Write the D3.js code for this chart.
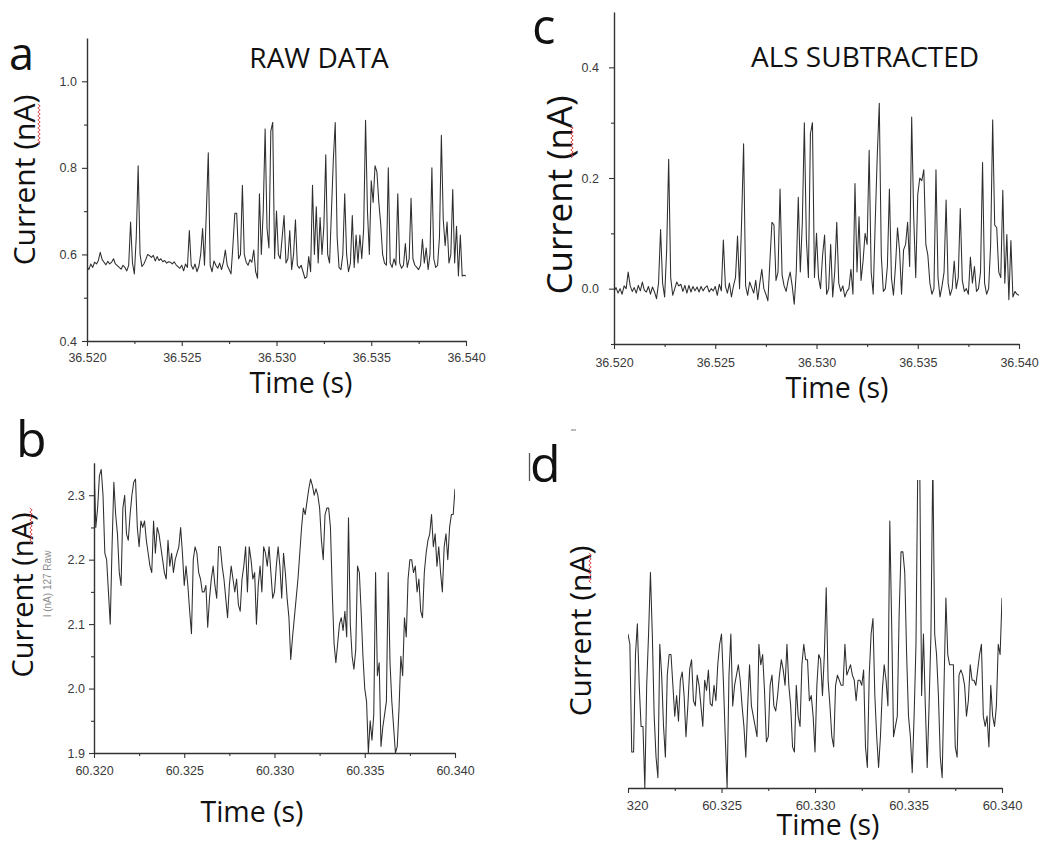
<!DOCTYPE html>
<html>
<head>
<meta charset="utf-8">
<script src="https://cdn.jsdelivr.net/npm/d3@7"></script>
<style>
  body { margin: 0; background: #fff; }
  svg { display: block; }
</style>
</head>
<body>
<svg id="fig" width="1053" height="848"></svg>
<script>
// ---- Recording 1: 36.520–36.540 s, sampled every 0.1 ms ----
const earlyStart = 36.520;
const sampleStep = 0.0001;

// Raw current (nA)
const earlyRaw = [
  0.572,0.565,0.578,0.570,0.582,0.578,0.586,0.605,0.588,0.582,
  0.576,0.584,0.578,0.582,0.590,0.578,0.574,0.570,0.566,0.575,
  0.570,0.562,0.575,0.675,0.580,0.555,0.640,0.805,0.600,0.572,
  0.578,0.588,0.600,0.597,0.593,0.598,0.585,0.595,0.586,0.590,
  0.583,0.586,0.580,0.583,0.582,0.578,0.583,0.576,0.572,0.568,
  0.575,0.562,0.578,0.570,0.655,0.575,0.566,0.578,0.560,0.572,
  0.600,0.660,0.575,0.700,0.835,0.575,0.560,0.585,0.575,0.568,
  0.580,0.565,0.582,0.610,0.575,0.565,0.555,0.620,0.695,0.695,
  0.590,0.600,0.760,0.600,0.582,0.575,0.588,0.582,0.610,0.560,
  0.545,0.740,0.600,0.700,0.890,0.660,0.615,0.885,0.905,0.590,
  0.700,0.600,0.590,0.640,0.690,0.580,0.590,0.655,0.565,0.600,
  0.680,0.575,0.568,0.575,0.560,0.545,0.548,0.595,0.560,0.760,
  0.600,0.710,0.580,0.685,0.600,0.665,0.830,0.600,0.580,0.700,
  0.820,0.905,0.640,0.570,0.565,0.600,0.740,0.600,0.560,0.580,
  0.690,0.570,0.645,0.580,0.645,0.590,0.660,0.910,0.700,0.600,
  0.770,0.720,0.805,0.790,0.720,0.670,0.600,0.580,0.575,0.800,
  0.580,0.570,0.590,0.575,0.740,0.580,0.568,0.575,0.625,0.570,
  0.590,0.730,0.590,0.575,0.570,0.565,0.575,0.635,0.580,0.615,
  0.565,0.600,0.800,0.590,0.570,0.575,0.640,0.875,0.680,0.620,
  0.675,0.580,0.600,0.750,0.580,0.665,0.550,0.645,0.550,0.552,
  0.550
];

// Same window after asymmetric-least-squares baseline removal (nA)
const earlyAls = [
  -0.005,0.002,-0.008,0.000,-0.010,0.005,0.000,0.030,0.005,-0.005,
  0.002,-0.008,0.006,-0.004,0.012,-0.003,-0.006,0.004,-0.010,0.003,
  -0.006,-0.018,0.010,0.107,0.010,-0.015,0.070,0.234,0.020,-0.012,
  0.000,0.012,0.005,0.008,-0.005,0.006,-0.008,0.006,-0.006,0.004,
  -0.004,0.003,-0.006,0.004,-0.004,0.002,0.005,-0.006,0.000,-0.004,
  0.004,-0.012,0.008,-0.004,0.088,0.005,-0.008,0.010,-0.015,0.005,
  0.020,0.095,0.000,0.120,0.262,0.005,-0.012,0.012,0.002,-0.008,
  0.015,-0.020,0.010,0.035,0.000,-0.010,-0.022,0.050,0.120,0.115,
  0.015,0.030,0.180,0.025,0.005,-0.005,0.015,0.030,0.005,-0.028,
  0.030,0.165,0.030,0.120,0.300,0.090,0.020,0.280,0.300,0.020,
  0.100,0.020,0.000,0.060,0.097,-0.010,0.000,0.080,-0.015,0.030,
  0.120,0.010,-0.005,0.005,-0.015,-0.005,0.000,0.035,-0.010,0.190,
  0.030,0.130,0.015,0.050,0.100,0.080,0.250,0.030,-0.010,0.120,
  0.240,0.335,0.060,-0.005,0.000,0.040,0.180,0.020,-0.012,0.040,
  0.110,0.070,-0.010,0.070,0.080,0.120,0.040,0.310,0.130,0.020,
  0.170,0.200,0.195,0.215,0.080,0.060,0.010,-0.010,0.000,0.215,
  0.020,-0.015,0.005,0.030,0.160,0.010,-0.012,0.000,0.050,0.000,
  0.020,0.145,0.015,-0.005,0.000,-0.010,0.057,0.010,0.040,-0.005,
  0.000,0.030,0.228,0.010,-0.010,0.000,0.080,0.305,0.115,0.110,
  0.030,0.020,0.178,0.010,0.098,-0.020,0.087,-0.015,-0.005,-0.010,
  -0.012
];

// ---- Recording 2: 60.320–60.340 s ----
const lateStart = 60.320;

const lateRaw = [
  2.35,2.25,2.28,2.33,2.34,2.30,2.21,2.20,2.15,2.10,
  2.22,2.32,2.27,2.24,2.18,2.16,2.28,2.30,2.24,2.23,
  2.27,2.30,2.32,2.325,2.25,2.22,2.26,2.25,2.26,2.23,
  2.21,2.19,2.18,2.26,2.21,2.25,2.24,2.22,2.20,2.18,
  2.17,2.23,2.19,2.21,2.18,2.20,2.21,2.22,2.25,2.21,
  2.16,2.19,2.16,2.12,2.085,2.20,2.22,2.21,2.18,2.17,
  2.15,2.15,2.16,2.095,2.14,2.17,2.19,2.16,2.14,2.22,
  2.22,2.19,2.17,2.14,2.11,2.16,2.19,2.17,2.15,2.17,
  2.13,2.12,2.17,2.19,2.22,2.15,2.22,2.20,2.17,2.18,
  2.10,2.16,2.19,2.15,2.22,2.21,2.19,2.22,2.18,2.14,
  2.15,2.19,2.22,2.19,2.14,2.21,2.18,2.14,2.11,2.045,
  2.08,2.11,2.14,2.17,2.21,2.25,2.28,2.27,2.29,2.31,
  2.325,2.315,2.30,2.31,2.30,2.28,2.23,2.20,2.27,2.28,
  2.28,2.25,2.15,2.07,2.04,2.07,2.10,2.11,2.09,2.12,
  2.08,2.265,2.10,2.05,2.03,2.06,2.19,2.18,2.12,2.05,
  2.00,1.98,1.90,1.95,1.92,1.96,2.18,2.02,2.04,1.91,
  1.94,1.96,1.98,2.18,2.04,1.98,1.94,1.90,1.91,1.97,
  2.05,2.02,2.11,2.08,2.17,2.20,2.20,2.18,2.19,2.15,
  2.17,2.12,2.11,2.18,2.21,2.23,2.24,2.27,2.22,2.24,
  2.19,2.22,2.18,2.15,2.22,2.24,2.20,2.25,2.27,2.27,
  2.31
];

const lateAls = [
  0.05,0.04,-0.065,-0.065,0.03,0.06,0.00,-0.04,-0.04,-0.10,
  0.00,0.05,0.11,0.05,-0.03,-0.07,-0.09,0.04,0.01,-0.04,
  -0.07,0.01,0.03,0.03,0.00,-0.03,-0.01,-0.035,0.005,0.013,
  -0.01,-0.05,-0.02,0.016,0.025,-0.015,-0.02,0.01,0.00,-0.02,
  -0.04,0.005,-0.005,0.015,-0.018,-0.02,0.00,-0.015,0.02,0.04,
  0.05,0.005,-0.05,-0.10,0.01,0.05,-0.02,0.00,0.01,0.02,
  0.005,-0.02,-0.04,-0.07,-0.02,0.02,-0.02,-0.03,-0.04,-0.05,
  0.04,0.02,0.03,-0.005,-0.055,-0.05,0.00,0.01,-0.02,-0.025,
  -0.01,0.01,0.025,0.015,0.00,0.04,0.00,-0.02,-0.06,-0.065,
  0.00,-0.03,-0.04,0.02,0.04,0.025,0.025,-0.015,-0.01,-0.03,
  -0.065,0.00,0.03,0.025,-0.01,0.03,0.095,0.005,-0.02,-0.05,
  -0.06,0.00,0.01,0.005,0.00,0.00,0.04,0.01,0.015,0.02,
  0.01,0.005,-0.015,0.005,0.005,0.00,0.015,-0.06,-0.08,0.01,
  0.05,0.065,-0.01,-0.05,-0.08,-0.05,-0.005,0.02,0.005,-0.02,
  0.16,0.06,-0.05,-0.04,-0.03,0.07,0.13,0.13,0.11,0.03,
  -0.03,-0.05,-0.085,-0.03,0.04,0.22,0.22,-0.01,0.05,-0.02,
  -0.08,-0.02,0.05,0.22,0.05,0.03,-0.01,-0.07,-0.09,0.00,
  0.085,0.03,0.02,0.02,0.02,-0.06,-0.07,0.01,0.015,0.01,
  0.00,-0.03,-0.015,0.02,0.005,0.005,0.00,0.015,0.03,0.04,
  -0.03,-0.04,-0.03,-0.06,0.00,-0.03,-0.04,-0.02,0.04,0.03,
  0.085
];

// Tick values
const earlyTimeTicks = [36.520, 36.525, 36.530, 36.535, 36.540];
const earlyTimeMinor = [36.5225, 36.5275, 36.5325, 36.5375];
const lateTimeTicks = [60.320, 60.325, 60.330, 60.335, 60.340];
const lateTimeMinor = [60.3225, 60.3275, 60.3325, 60.3375];
const rawTicksA = [0.4, 0.6, 0.8, 1.0];
const rawMinorA = [0.5, 0.7, 0.9];
const alsTicksC = [0.0, 0.2, 0.4];
const alsMinorC = [-0.1, 0.1, 0.3];
const rawTicksB = [1.9, 2.0, 2.1, 2.2, 2.3];
const rawMinorB = [1.95, 2.05, 2.15, 2.25];

const svg = d3.select("#fig");
const defs = svg.append("defs");
const TEXT_FONT = "'Open Sans', 'Noto Sans', sans-serif";
const TICK_FONT = "'Liberation Sans', Arial, sans-serif";

function drawPanel(p) {
  const g = svg.append("g").attr("class", "panel-" + p.id);
  const x = d3.scaleLinear().domain(p.xDomain).range([p.left, p.right]);
  const y = d3.scaleLinear().domain(p.yDomain).range([p.bottom, p.top]);

  // x axis (optionally clipped on the left)
  const xg = g.append("g");
  if (p.axisClipLeft != null) {
    defs.append("clipPath").attr("id", "xclip-" + p.id).append("rect")
      .attr("x", p.axisClipLeft).attr("y", p.bottom - 20)
      .attr("width", 1053).attr("height", 60);
    xg.attr("clip-path", `url(#xclip-${p.id})`);
  }
  xg.append("g").attr("transform", `translate(0,${p.bottom})`)
    .call(d3.axisBottom(x).tickValues(p.xTicks).tickFormat(d3.format(".3f"))
      .tickSizeInner(5).tickSizeOuter(0).tickPadding(p.xPad));
  const xMinorG = xg.append("g").attr("transform", `translate(0,${p.bottom})`)
    .call(d3.axisBottom(x).tickValues(p.xMinor).tickSizeInner(3).tickSizeOuter(0));
  xMinorG.select(".domain").remove();
  xMinorG.selectAll("text").remove();

  if (p.yTicks) {
    g.append("g").attr("transform", `translate(${p.left},0)`)
      .call(d3.axisLeft(y).tickValues(p.yTicks).tickFormat(d3.format(".1f"))
        .tickSizeInner(5).tickSizeOuter(0).tickPadding(p.yPad));
    const yMinorG = g.append("g").attr("transform", `translate(${p.left},0)`)
      .call(d3.axisLeft(y).tickValues(p.yMinor).tickSizeInner(3).tickSizeOuter(0));
    yMinorG.select(".domain").remove();
    yMinorG.selectAll("text").remove();
  }

  g.selectAll(".domain").attr("stroke", "#333").attr("stroke-width", 1.4);
  g.selectAll(".tick line").attr("stroke", "#333").attr("stroke-width", 1.1);
  g.selectAll(".tick text")
    .attr("font-family", TICK_FONT).attr("font-size", p.tickSize).attr("fill", "#3a3a3a");

  // trace
  defs.append("clipPath").attr("id", "plot-" + p.id).append("rect")
    .attr("x", p.left).attr("y", p.top)
    .attr("width", p.right - p.left).attr("height", p.bottom - p.top);
  const pts = p.values.map((v, i) => [p.t0 + i * sampleStep, v]);
  g.append("path").datum(pts)
    .attr("clip-path", `url(#plot-${p.id})`)
    .attr("fill", "none").attr("stroke", "#2e2e2e").attr("stroke-width", 1.05)
    .attr("stroke-linejoin", "round")
    .attr("d", d3.line().x(d => x(d[0])).y(d => y(d[1])));

  // panel letter, title, axis titles
  g.append("text").text(p.letter)
    .attr("x", p.letterX).attr("y", p.letterY)
    .attr("font-family", TEXT_FONT).attr("font-size", p.letterSize).attr("fill", "#111");
  if (p.title) {
    g.append("text").text(p.title)
      .attr("x", p.titleX).attr("y", p.titleY).attr("text-anchor", "middle")
      .attr("font-family", TEXT_FONT).attr("font-size", 28).attr("fill", "#111");
  }
  g.append("text").text("Time (s)")
    .attr("x", p.xTitleX).attr("y", p.xTitleY).attr("text-anchor", "middle")
    .attr("font-family", TEXT_FONT).attr("font-size", 28.5).attr("fill", "#111");
  g.append("text").text("Current (nA)")
    .attr("transform", `translate(${p.yTitleX},${p.yTitleY}) rotate(-90)`)
    .attr("text-anchor", "middle")
    .attr("font-family", TEXT_FONT).attr("font-size", p.yTitleSize).attr("fill", "#111");

  // red wavy underline beneath "nA"
  const sq = p.squiggle;
  const wave = d3.range(0, Math.round((sq.y1 - sq.y0) / 2) + 1)
    .map(k => [sq.x + (k % 2 ? 1.2 : -1.2), sq.y0 + k * 2]);
  g.append("path").datum(wave)
    .attr("fill", "none").attr("stroke", "#d63a3a").attr("stroke-width", 0.9)
    .attr("d", d3.line());
  return g;
}

drawPanel({
  id: "a", letter: "a", letterX: 9, letterY: 70, letterSize: 45,
  title: "RAW DATA", titleX: 319, titleY: 68,
  left: 87, right: 466, top: 38, bottom: 341,
  xDomain: [36.520, 36.540], yDomain: [0.4, 1.1],
  xTicks: earlyTimeTicks, xMinor: earlyTimeMinor, xPad: 7,
  yTicks: rawTicksA, yMinor: rawMinorA, yPad: 5, tickSize: 12.5,
  t0: earlyStart, values: earlyRaw,
  xTitleX: 301, xTitleY: 393,
  yTitleX: 35, yTitleY: 180, yTitleSize: 30,
  squiggle: { x: 39, y0: 104, y1: 143 }
});

drawPanel({
  id: "c", letter: "c", letterX: 532, letterY: 44, letterSize: 49,
  title: "ALS SUBTRACTED", titleX: 865, titleY: 67,
  left: 614, right: 1019, top: 12, bottom: 344,
  xDomain: [36.520, 36.540], yDomain: [-0.1, 0.5],
  xTicks: earlyTimeTicks, xMinor: earlyTimeMinor, xPad: 9,
  yTicks: alsTicksC, yMinor: alsMinorC, yPad: 10, tickSize: 12.5,
  t0: earlyStart, values: earlyAls,
  xTitleX: 837, xTitleY: 398,
  yTitleX: 572, yTitleY: 195, yTitleSize: 35,
  squiggle: { x: 572, y0: 126, y1: 157 }
});

drawPanel({
  id: "b", letter: "b", letterX: 16, letterY: 457, letterSize: 50,
  left: 94, right: 455, top: 463, bottom: 753,
  xDomain: [60.320, 60.340], yDomain: [1.9, 2.35],
  xTicks: lateTimeTicks, xMinor: lateTimeMinor, xPad: 8,
  yTicks: rawTicksB, yMinor: rawMinorB, yPad: 4, tickSize: 12.5,
  t0: lateStart, values: lateRaw,
  xTitleX: 252, xTitleY: 822,
  yTitleX: 33, yTitleY: 595, yTitleSize: 29,
  squiggle: { x: 31, y0: 508, y1: 543 }
});

drawPanel({
  id: "d", letter: "d", letterX: 530, letterY: 482, letterSize: 50,
  left: 628, right: 1002, top: 480, bottom: 788, axisClipLeft: 626,
  xDomain: [60.320, 60.340], yDomain: [-0.1, 0.2],
  xTicks: lateTimeTicks, xMinor: lateTimeMinor, xPad: 8,
  tickSize: 13,
  t0: lateStart, values: lateAls,
  xTitleX: 828, xTitleY: 835,
  yTitleX: 591, yTitleY: 631, yTitleSize: 30,
  squiggle: { x: 590, y0: 553, y1: 583 }
});

// leftover fragment of an earlier, smaller axis title beside panel b's tick labels
svg.append("text").text("I (nA) 127 Raw")
  .attr("transform", "translate(51,584) rotate(-90)")
  .attr("text-anchor", "middle")
  .attr("font-family", TICK_FONT).attr("font-size", 10).attr("fill", "#8a8a8a");

// stray marks near panel d's letter
svg.append("line").attr("x1", 529.5).attr("x2", 529.5).attr("y1", 453).attr("y2", 481)
  .attr("stroke", "#555").attr("stroke-width", 1.3);
svg.append("line").attr("x1", 571).attr("x2", 576).attr("y1", 430).attr("y2", 430)
  .attr("stroke", "#777").attr("stroke-width", 1);
</script>
</body>
</html>
